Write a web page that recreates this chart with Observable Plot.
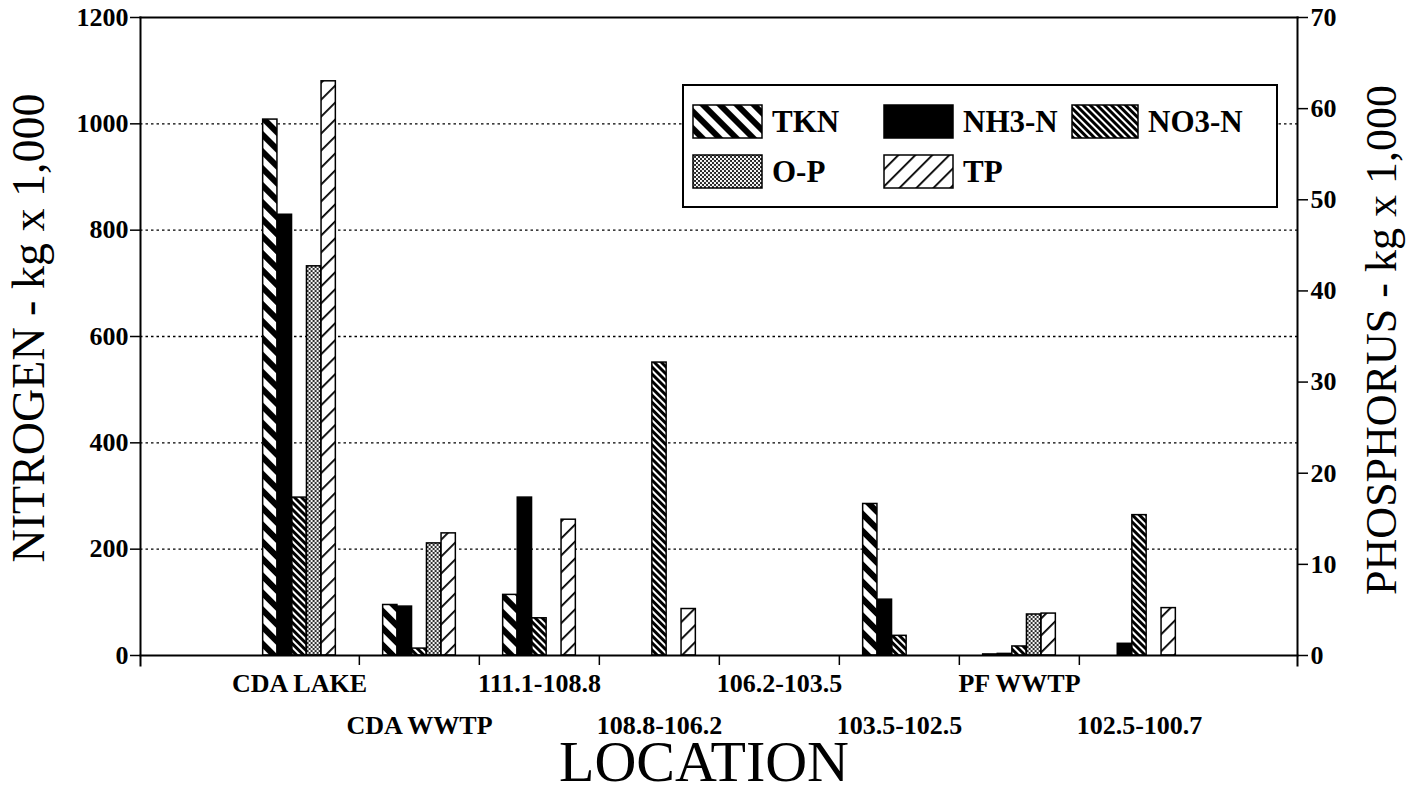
<!DOCTYPE html>
<html>
<head>
<meta charset="utf-8">
<script src="https://cdn.jsdelivr.net/npm/d3@7"></script>
<script src="https://cdn.jsdelivr.net/npm/@observablehq/plot@0.6"></script>
<style>
  html, body { margin: 0; padding: 0; background: white; }
  #wrap { position: relative; width: 1423px; height: 792px; }
  #overlay { position: absolute; left: 0; top: 0; pointer-events: none; }
</style>
</head>
<body>
<svg width="0" height="0" style="position:absolute">
  <defs>
    <pattern id="pat0" patternUnits="userSpaceOnUse" width="12" height="12" patternTransform="rotate(-45)">
      <rect width="12" height="12" fill="white"/><rect width="6" height="12" fill="black"/>
    </pattern>
    <pattern id="pat1" patternUnits="userSpaceOnUse" width="10" height="10">
      <rect width="10" height="10" fill="black"/>
    </pattern>
    <pattern id="pat2" patternUnits="userSpaceOnUse" width="5" height="5" patternTransform="rotate(-45)">
      <rect width="5" height="5" fill="white"/><rect width="3" height="5" fill="black"/>
    </pattern>
    <pattern id="pat3" patternUnits="userSpaceOnUse" width="4" height="4">
      <rect width="4" height="4" fill="#222"/>
      <circle cx="1" cy="1" r="1.15" fill="white"/><circle cx="3" cy="3" r="1.15" fill="white"/>
    </pattern>
    <pattern id="pat4" patternUnits="userSpaceOnUse" width="12" height="12" patternTransform="rotate(45)">
      <rect width="12" height="12" fill="white"/><rect width="1.8" height="12" fill="black"/>
    </pattern>
  </defs>
</svg>
<div id="wrap"></div>
<script>
// ---- data ----
const locations = ["CDA LAKE", "CDA WWTP", "111.1-108.8", "108.8-106.2", "106.2-103.5", "103.5-102.5", "PF WWTP", "102.5-100.7"];
const seriesNames = ["TKN", "NH3-N", "NO3-N", "O-P", "TP"];
// nitrogen, kg x 1,000 (left axis)
const tkn = [1008, 95, 114, 0, 0, 285, 2, 0];
const nh3 = [829, 92, 297, 0, 0, 105, 3, 22];
const no3 = [297, 13, 70, 551, 0, 37, 17, 264];
// phosphorus, kg x 1,000 (right axis)
const op = [42.7, 12.3, 0, 0, 0, 0, 4.5, 0];
const tp = [63.0, 13.4, 14.9, 5.1, 0, 0, 4.6, 5.2];

const nitrogenTicks = [0, 200, 400, 600, 800, 1000, 1200];
const phosphorusTicks = [0, 10, 20, 30, 40, 50, 60, 70];
const gridValues = [200, 400, 600, 800, 1000];

const leftTitle = "NITROGEN - kg x 1,000";
const rightTitle = "PHOSPHORUS - kg x 1,000";
const bottomTitle = "LOCATION";

const seriesValues = [tkn, nh3, no3, op, tp];
const seriesAxis = ["N", "N", "N", "P", "P"];
const K = 1200 / 70; // phosphorus -> nitrogen axis units

const table = locations.flatMap((loc, i) =>
  seriesNames.map((s, j) => ({
    location: loc,
    series: s,
    value: seriesAxis[j] === "P" ? seriesValues[j][i] * K : seriesValues[j][i]
  }))
);

const W = 1423, H = 792;
const xRange = [237.5, 1200];
const band = (xRange[1] - xRange[0]) / locations.length;
const barW = 14.6;
const inset = (band - barW) / 2;
const serif = "'Liberation Serif', 'Times New Roman', serif";

const barMarks = seriesNames.map((s, j) =>
  Plot.barY(table.filter(d => d.series === s && d.value > 0), {
    x: "location", y: "value",
    fill: `url(#pat${j})`, stroke: "black", strokeWidth: 1.5,
    insetLeft: inset, insetRight: inset, dx: (j - 2) * barW
  })
);

const chart = Plot.plot({
  width: W, height: H,
  marginLeft: 140, marginRight: 126, marginTop: 17, marginBottom: 137,
  style: { fontFamily: serif, color: "black", background: "white", overflow: "visible" },
  x: { domain: locations, range: xRange, padding: 0 },
  y: { domain: [0, 1200] },
  marks: [
    Plot.gridY(gridValues, { stroke: "black", strokeOpacity: 1, strokeWidth: 1.4, strokeDasharray: "2.5,3" }),
    ...barMarks,
    Plot.frame({ anchor: "top", strokeWidth: 2 }),
    Plot.frame({ anchor: "bottom", strokeWidth: 2 }),
    Plot.frame({ anchor: "left", strokeWidth: 2, insetBottom: -10 }),
    Plot.frame({ anchor: "right", strokeWidth: 2, insetBottom: -10 }),
    Plot.axisY(nitrogenTicks, { anchor: "left", tickSize: 10, tickPadding: 2, strokeWidth: 1.5,
      fontSize: 26, fontWeight: "bold", label: null, tickFormat: d => String(d) }),
    Plot.axisY(phosphorusTicks.map(p => p * K), { anchor: "right", tickSize: 10, tickPadding: 3, strokeWidth: 1.5,
      fontSize: 26, fontWeight: "bold", label: null, tickFormat: d => String(Math.round(d / K)) }),
    Plot.axisX(locations.slice(1), { anchor: "bottom", tickSize: 10, strokeWidth: 1.5, dx: -band / 2,
      tickFormat: () => "", label: null }),
    Plot.axisX(locations.filter((_, i) => i % 2 === 0), { anchor: "bottom", tickSize: 0, tickPadding: 18,
      fontSize: 26, fontWeight: "bold", label: null }),
    Plot.axisX(locations.filter((_, i) => i % 2 === 1), { anchor: "bottom", tickSize: 0, tickPadding: 60,
      fontSize: 26, fontWeight: "bold", label: null })
  ]
});

const wrap = document.getElementById("wrap");
wrap.appendChild(chart);

// ---- overlay: axis titles and legend ----
const ns = "http://www.w3.org/2000/svg";
const ov = document.createElementNS(ns, "svg");
ov.setAttribute("id", "overlay");
ov.setAttribute("width", W); ov.setAttribute("height", H);
function addText(str, attrs) {
  const t = document.createElementNS(ns, "text");
  for (const k in attrs) t.setAttribute(k, attrs[k]);
  t.setAttribute("font-family", serif);
  t.textContent = str;
  ov.appendChild(t);
  return t;
}
addText(leftTitle, { transform: "translate(44,328) rotate(-90)", "text-anchor": "middle", "font-size": 46 });
addText(rightTitle, { transform: "translate(1396,340) rotate(-90)", "text-anchor": "middle", "font-size": 44 });
addText(bottomTitle, { x: 704, y: 781, "text-anchor": "middle", "font-size": 58 });

const legendPos = [[693, 105], [884, 105], [1072, 105], [693, 155], [884, 155]];
const box = document.createElementNS(ns, "rect");
box.setAttribute("x", 683); box.setAttribute("y", 85); box.setAttribute("width", 594); box.setAttribute("height", 122);
box.setAttribute("fill", "white"); box.setAttribute("stroke", "black"); box.setAttribute("stroke-width", 2);
ov.appendChild(box);
seriesNames.forEach((s, j) => {
  const [lx, ly] = legendPos[j];
  const r = document.createElementNS(ns, "rect");
  r.setAttribute("x", lx); r.setAttribute("y", ly); r.setAttribute("width", j === 2 ? 66 : 69); r.setAttribute("height", 33);
  r.setAttribute("fill", `url(#pat${j})`); r.setAttribute("stroke", "black"); r.setAttribute("stroke-width", 1.5);
  ov.appendChild(r);
  addText(s, { x: lx + (j === 2 ? 76 : 79), y: ly + 27, "font-weight": "bold", "font-size": 31 });
});
wrap.appendChild(ov);
</script>
</body>
</html>
